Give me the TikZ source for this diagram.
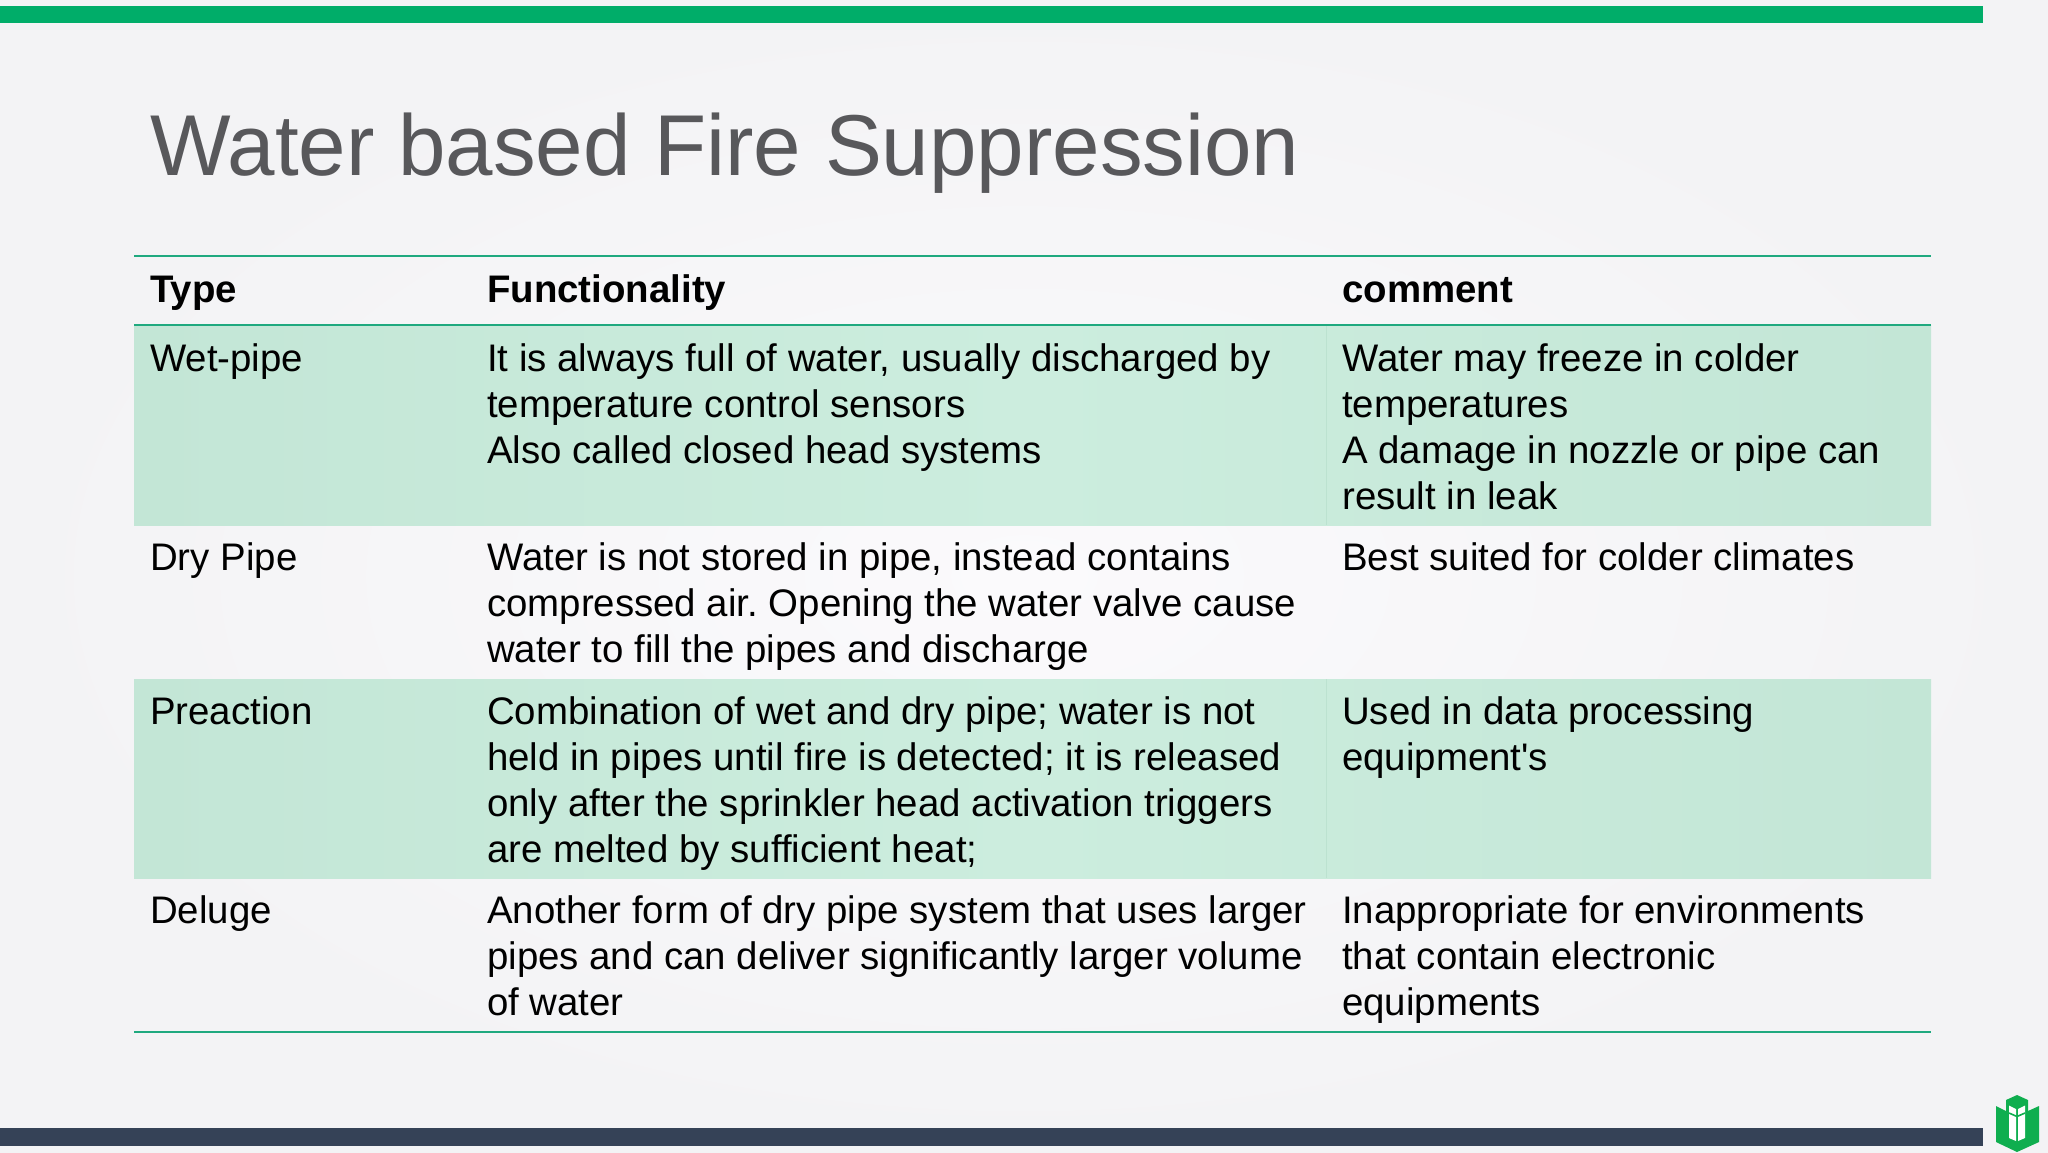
\documentclass[tikz,border=0pt]{standalone}
\usepackage{graphicx}
\usepackage{fontspec}
\setmainfont{Liberation Sans}[Ligatures=TeXOff]
\frenchspacing
\definecolor{barG}{HTML}{00AD69}
\definecolor{barD}{HTML}{354257}
\definecolor{ruleG}{HTML}{1FA97F}
\definecolor{titleC}{HTML}{58585B}
\definecolor{bgE}{HTML}{F3F3F5}
\definecolor{bgC}{HTML}{FBFAFC}
\definecolor{rowE}{HTML}{C3E6D6}
\definecolor{rowC}{HTML}{CCEDDE}
\definecolor{sepC}{HTML}{BCE2D0}
\definecolor{logoG}{HTML}{0FAE4F}
\tikzset{
  x=1pt,y=-1pt,
  cell/.style={anchor=north west,inner sep=0pt,align=left,text=black,
    font=\fontsize{38.4}{46}\selectfont,execute at begin node={\rule{0pt}{30pt}}},
  head/.style={cell,font=\fontsize{38.4}{46}\selectfont\bfseries},
  rowband/.style={left color=rowE,right color=rowE,middle color=rowC,shading angle=90},
  trule/.style={draw=ruleG,line width=2.4pt},
}
\begin{document}
\begin{tikzpicture}
\useasboundingbox (0,0) rectangle (2048,1152);
\shade[inner color=bgC,outer color=bgE] (0,0) rectangle (2048,1152);
% bars
\fill[barG] (0,6) rectangle (1983,23);
\fill[barD] (0,1128) rectangle (1983,1146);
% title
\node[anchor=base west,inner sep=0pt,text=titleC,font=\fontsize{86.4}{100}\selectfont] (title) at (150,175) {\scalebox{0.9876}[1]{Water based Fire Suppression}};
% bands
\shade[rowband] (134,325) rectangle (1931,525);
\shade[rowband] (134,679) rectangle (1931,878);
\draw[sepC,line width=1pt] (1326,325) -- (1326,525) (1326,679) -- (1326,878);
% rules
\coordinate (r1a) at (134,256); \coordinate (r1b) at (1931,256);
\coordinate (r2a) at (134,325); \coordinate (r2b) at (1931,325);
\coordinate (r3a) at (134,1032); \coordinate (r3b) at (1931,1032);
\draw[trule] (r1a) -- (r1b);
\draw[trule] (r2a) -- (r2b);
\draw[trule] (r3a) -- (r3b);
% header
\node[head] (h1) at (150,272) {Type};
\node[head] (h2) at (487,272) {Functionality};
\node[head] (h3) at (1342,272) {comment};
% row 1
\node[cell] (a1) at (150,341.5) {Wet-pipe};
\node[cell] (b1) at (487,343) {It is always full of water, usually discharged by\\temperature control sensors\\Also called closed head systems};
\node[cell] (c1) at (1342,343) {Water may freeze in colder\\temperatures\\A damage in nozzle or pipe can\\result in leak};
% row 2
\node[cell] (a2) at (150,540.5) {Dry Pipe};
\node[cell] (b2) at (487,542) {Water is not stored in pipe, instead contains\\compressed air. Opening the water valve cause\\water to fill the pipes and discharge};
\node[cell] (c2) at (1342,540.5) {Best suited for colder climates};
% row 3
\node[cell] (a3) at (150,694) {Preaction};
\node[cell] (b3) at (487,696) {Combination of wet and dry pipe; water is not\\held in pipes until fire is detected; it is released\\only after the sprinkler head activation triggers\\are melted by sufficient heat;};
\node[cell] (c3) at (1342,696) {Used in data processing\\equipment's};
% row 4
\node[cell] (a4) at (150,893.5) {Deluge};
\node[cell] (b4) at (487,895) {Another form of dry pipe system that uses larger\\pipes and can deliver significantly larger volume\\of water};
\node[cell] (c4) at (1342,895) {Inappropriate for environments\\that contain electronic\\equipments};
% logo
\fill[logoG] (1996,1106) -- (2006,1111) -- (2006,1100) -- (2017,1095) -- (2028,1100) -- (2028,1111) -- (2039,1106) -- (2039,1142) -- (2017,1152) -- (1996,1142) -- cycle;
\fill[white] (2009,1105.5) -- (2016,1109) -- (2016,1141) -- (2009,1138) -- cycle;
\fill[white] (2025,1105.5) -- (2018,1109) -- (2018,1141) -- (2025,1138) -- cycle;
\draw[logoG,line width=1.6pt] (2009,1113) -- (2017,1116.5) -- (2025,1113);
\end{tikzpicture}
\end{document}
